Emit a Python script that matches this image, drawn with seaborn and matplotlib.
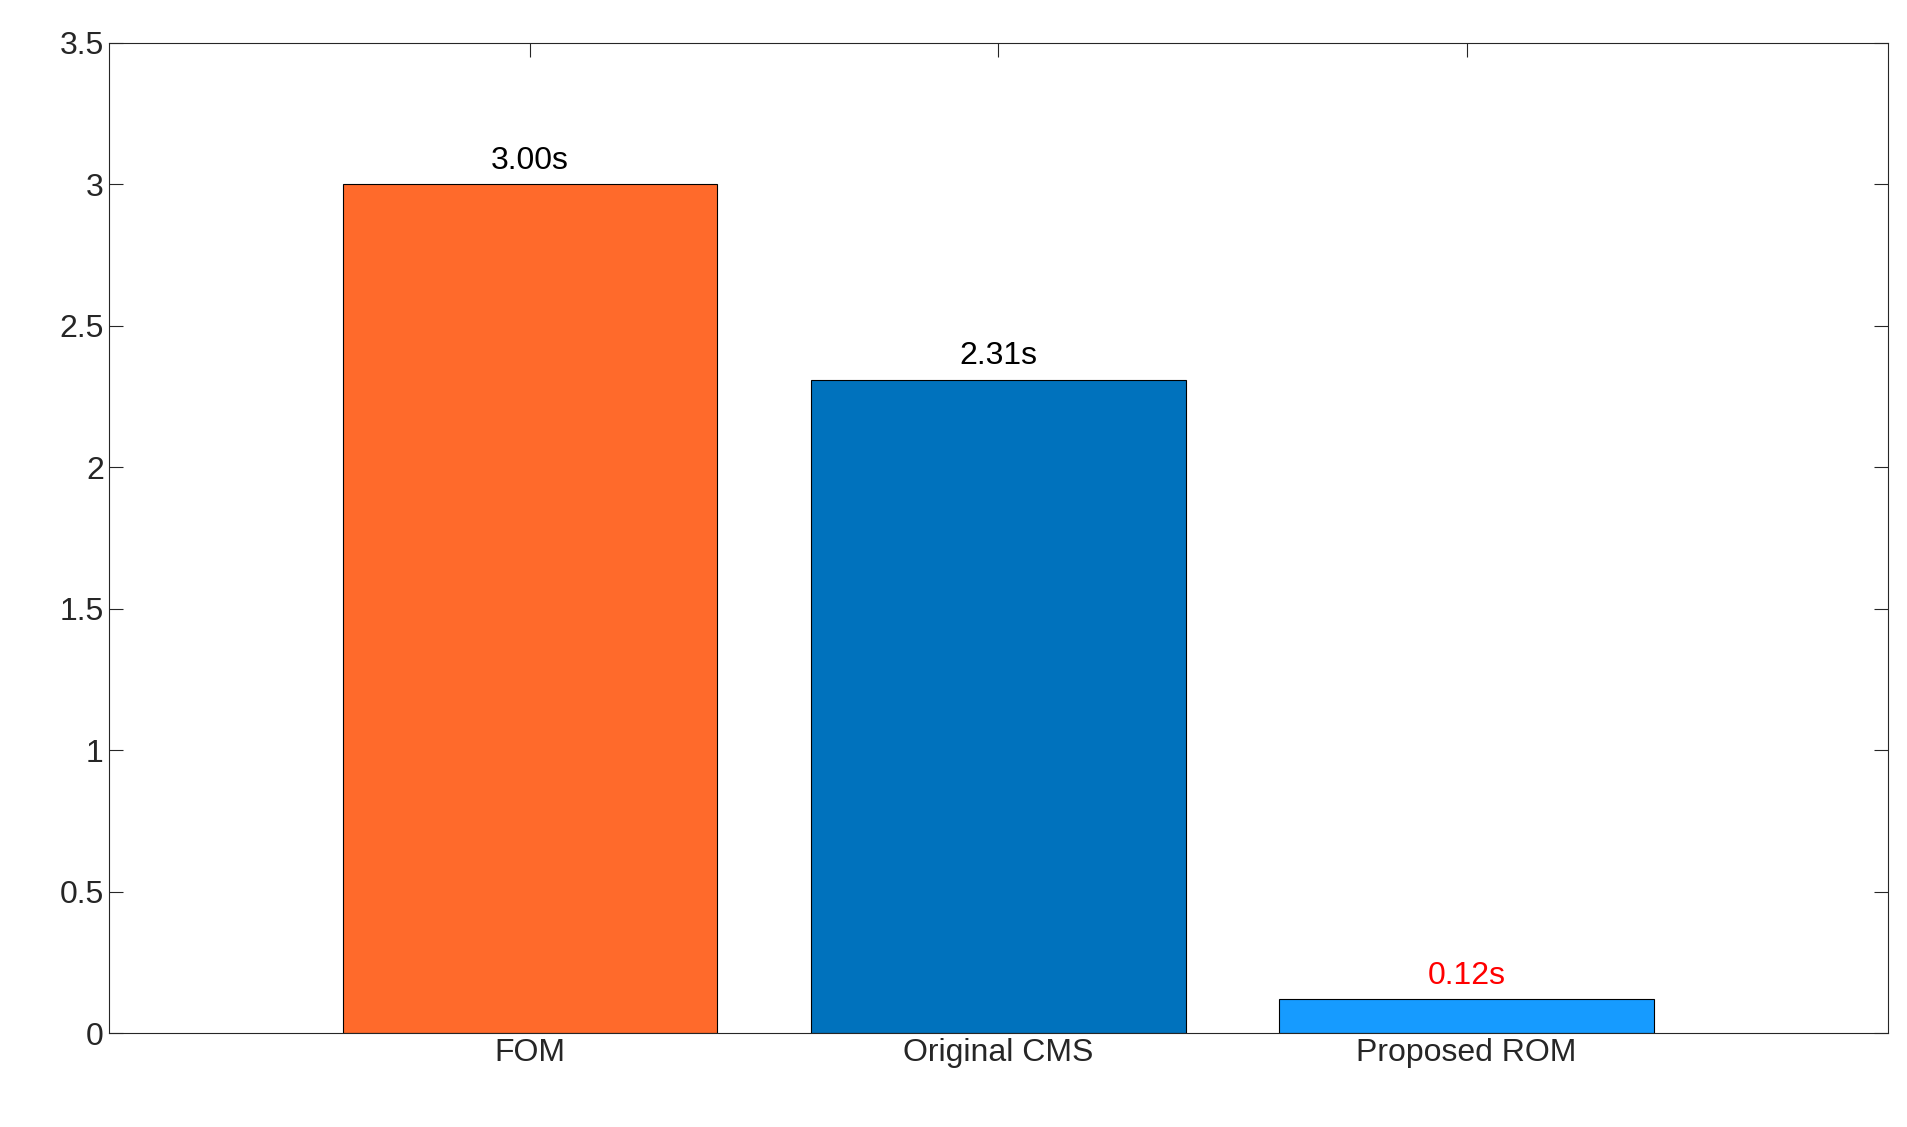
import matplotlib
matplotlib.use('Agg')
import matplotlib.pyplot as plt
import seaborn as sns
import pandas as pd

methods = ['FOM', 'Original CMS', 'Proposed ROM']
times = [3.00, 2.31, 0.12]
bar_colors = ['#FF6A2B', '#0072BD', '#169BFF']
label_colors = ['black', 'black', 'red']

sns.set_style('white')
plt.rcParams['font.family'] = ['Liberation Sans', 'DejaVu Sans']

df = pd.DataFrame({'method': methods, 'time': times})

fig = plt.figure(figsize=(19.07, 11.27), dpi=100)
ax = fig.add_axes([0.057, 0.083, 0.933, 0.879])
sns.barplot(data=df, x='method', y='time', hue='method', palette=bar_colors,
            order=methods, width=0.8, edgecolor='black', linewidth=0.8,
            saturation=1, legend=False, ax=ax)

for i, (t, c) in enumerate(zip(times, label_colors)):
    ax.text(i, t + 0.03, f'{t:.2f}s', ha='center', va='bottom', fontsize=23, color=c)

ax.set_xlim(-0.9, 2.9)
ax.set_ylim(0, 3.5)
ax.set_yticks([0, 0.5, 1, 1.5, 2, 2.5, 3, 3.5])
ax.set_yticklabels(['0', '0.5', '1', '1.5', '2', '2.5', '3', '3.5'])
ax.set_xlabel('')
ax.set_ylabel('')
ax.tick_params(direction='in', length=10, width=0.8, labelsize=23, colors='#262626',
               top=True, right=True, bottom=True, left=True)
for s in ax.spines.values():
    s.set_linewidth(0.8)
    s.set_color('#262626')

plt.savefig('out.png', dpi=100)
plt.close()
